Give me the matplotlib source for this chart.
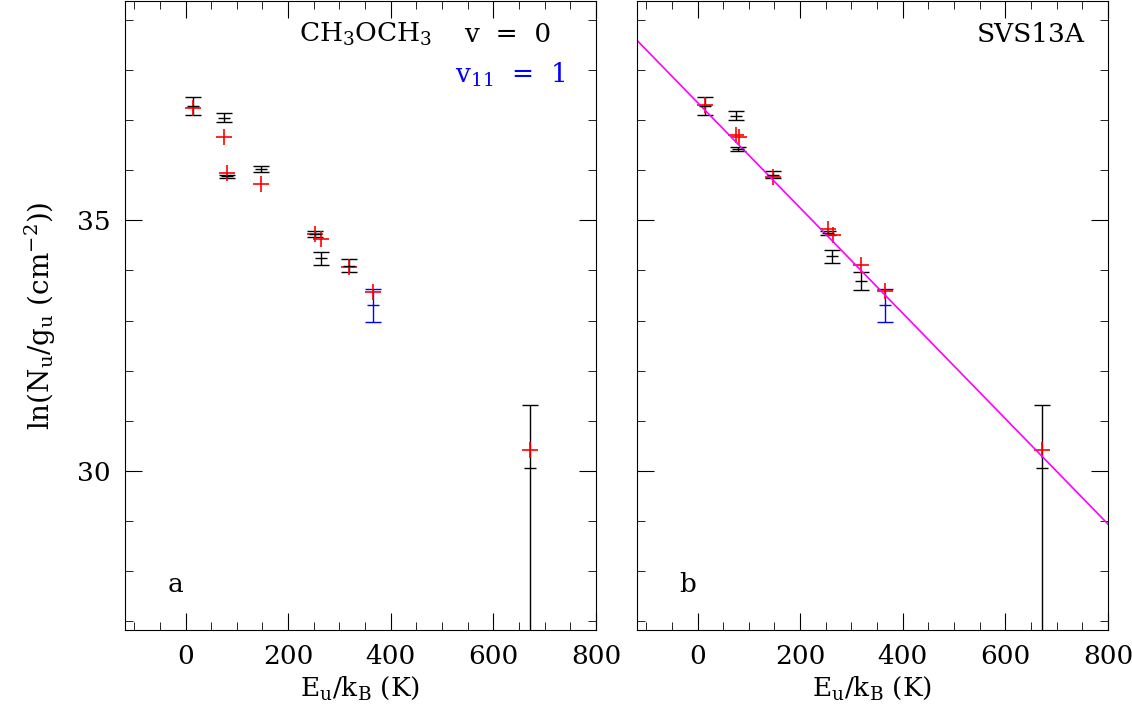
import numpy as np
import matplotlib.pyplot as plt
from matplotlib.ticker import MultipleLocator

plt.rcParams['font.family'] = 'DejaVu Serif'
plt.rcParams['mathtext.fontset'] = 'dejavuserif'

# panel a (v=0 black, v11=1 blue, model red)
a_E = [15, 74.5, 81, 148, 253, 264, 319, 671]
a_ln = [37.28, 37.05, 35.88, 36.02, 34.72, 34.24, 34.09, 30.06]
a_lo = [0.17, 0.09, 0.03, 0.06, 0.06, 0.13, 0.13, 3.6]
a_hi = [0.17, 0.09, 0.03, 0.06, 0.06, 0.13, 0.13, 1.26]
a_blue_E = [366]
a_blue_ln = [33.31]
a_blue_err = [0.33]
a_red_E = [15, 74.5, 81, 148, 253, 265, 319, 366, 671]
a_red_ln = [37.24, 36.67, 35.94, 35.72, 34.73, 34.62, 34.06, 33.57, 30.42]

# panel b
b_E = [14.3, 74.5, 79, 147, 254, 263, 318, 671]
b_ln = [37.28, 37.09, 36.43, 35.91, 34.75, 34.28, 33.79, 30.06]
b_lo = [0.17, 0.09, 0.04, 0.07, 0.04, 0.13, 0.18, 3.6]
b_hi = [0.17, 0.09, 0.04, 0.07, 0.04, 0.13, 0.18, 1.26]
b_blue_E = [365]
b_blue_ln = [33.31]
b_blue_err = [0.33]
b_red_E = [14.3, 75.3, 81, 147, 254, 265, 318, 365, 671]
b_red_ln = [37.30, 36.71, 36.66, 35.86, 34.83, 34.70, 34.10, 33.59, 30.42]

# rotational diagram fit
fit_slope = -0.01051
fit_icpt = 37.35

fig = plt.figure(figsize=(11.32, 7.18), dpi=100)
ax1 = fig.add_axes([0.1104, 0.1226, 0.4161, 0.8764])
ax2 = fig.add_axes([0.5627, 0.1226, 0.4161, 0.8764])

def style(ax):
    ax.set_xlim(-118, 800)
    ax.set_ylim(26.83, 39.38)
    ax.xaxis.set_major_locator(MultipleLocator(200))
    ax.xaxis.set_minor_locator(MultipleLocator(50))
    ax.yaxis.set_major_locator(MultipleLocator(5))
    ax.yaxis.set_minor_locator(MultipleLocator(1))
    ax.tick_params(which='both', direction='in', top=True, right=True, labelsize=19, pad=10)
    ax.tick_params(which='major', length=12)
    ax.tick_params(which='minor', length=6)
    ax.set_xlabel(r'E$_\mathrm{u}$/k$_\mathrm{B}$ (K)', fontsize=19)

def draw(ax, E, ln, lo, hi, bE, bln, berr, rE, rln):
    ax.errorbar(E, ln, yerr=[lo, hi], fmt='_', color='black', ms=8,
                elinewidth=1, capsize=6, capthick=1)
    ax.errorbar(bE, bln, yerr=berr, fmt='_', color='blue', ms=8,
                elinewidth=1, capsize=6, capthick=1)
    ax.plot(rE, rln, '+', color='red', ms=12, mew=1.2)

style(ax1)
style(ax2)
draw(ax1, a_E, a_ln, a_lo, a_hi, a_blue_E, a_blue_ln, a_blue_err, a_red_E, a_red_ln)
draw(ax2, b_E, b_ln, b_lo, b_hi, b_blue_E, b_blue_ln, b_blue_err, b_red_E, b_red_ln)

xs = np.array(ax2.get_xlim())
ax2.plot(xs, fit_icpt + fit_slope * xs, color='magenta', lw=1.2)

ax1.set_ylabel(r'ln(N$_\mathrm{u}$/g$_\mathrm{u}$ (cm$^{-2}$))', fontsize=20, labelpad=14)
ax2.set_yticklabels([])

ax1.text(0.37, 0.935, r'CH$_3$OCH$_3$', transform=ax1.transAxes, fontsize=19)
ax1.text(0.72, 0.935, 'v  =  0', transform=ax1.transAxes, fontsize=19)
ax1.text(0.70, 0.87, r'v$_{11}$  =  1', transform=ax1.transAxes, fontsize=19, color='blue')
ax2.text(0.95, 0.935, 'SVS13A', transform=ax2.transAxes, fontsize=19, ha='right')
ax1.text(0.09, 0.06, 'a', transform=ax1.transAxes, fontsize=19)
ax2.text(0.09, 0.06, 'b', transform=ax2.transAxes, fontsize=19)

fig.savefig('out.png', dpi=100)
